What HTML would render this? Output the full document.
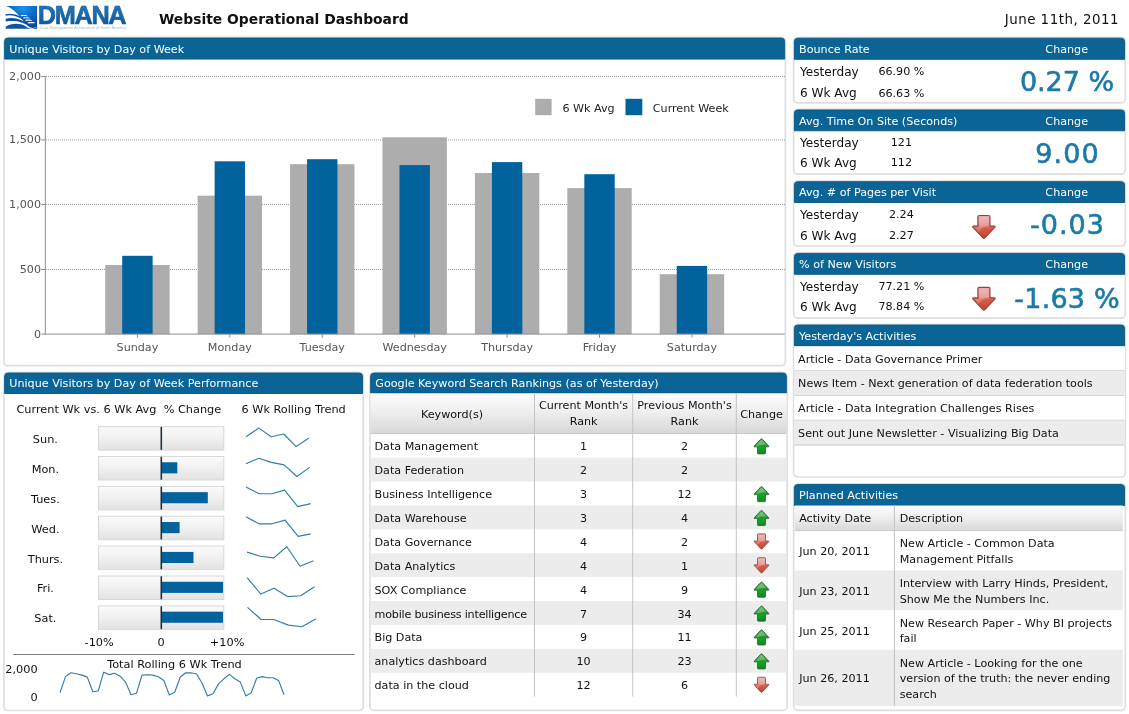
<!DOCTYPE html>
<html lang="en"><head><meta charset="utf-8"><title>Website Operational Dashboard</title>
<style>
html,body{margin:0;padding:0;background:#fff;}
body{width:1129px;height:714px;position:relative;overflow:hidden;font-family:"DejaVu Sans","Liberation Sans",sans-serif;}
svg.bg{position:absolute;left:0;top:0;}
.t{position:absolute;white-space:nowrap;line-height:1;}
</style></head>
<body>
<svg class="bg" width="1129" height="714" viewBox="0 0 1129 714">
<defs>
<linearGradient id="rd" x1="0" y1="0" x2="0" y2="1"><stop offset="0" stop-color="#eaa9a8"/><stop offset="0.42" stop-color="#e08a84"/><stop offset="0.55" stop-color="#d65c4a"/><stop offset="1" stop-color="#bd4434"/></linearGradient>
<linearGradient id="gu" x1="0" y1="0" x2="0" y2="1"><stop offset="0" stop-color="#4fb257"/><stop offset="0.5" stop-color="#24912f"/><stop offset="0.56" stop-color="#17a22b"/><stop offset="1" stop-color="#118624"/></linearGradient>
<radialGradient id="lg1" cx="0.55" cy="0.1" r="0.75"><stop offset="0" stop-color="#1b96ee"/><stop offset="0.6" stop-color="#0d62c0"/><stop offset="1" stop-color="#0a48a0"/></radialGradient>
<linearGradient id="lg2" x1="0" y1="0" x2="0" y2="1"><stop offset="0" stop-color="#2a7dc2"/><stop offset="0.5" stop-color="#1868aa"/><stop offset="1" stop-color="#0b4f8a"/></linearGradient>
<linearGradient id="bx" x1="0" y1="0" x2="0" y2="1"><stop offset="0" stop-color="#fbfbfb"/><stop offset="0.5" stop-color="#f0f0f0"/><stop offset="1" stop-color="#e2e2e2"/></linearGradient>
<linearGradient id="th" x1="0" y1="0" x2="0" y2="1"><stop offset="0" stop-color="#fcfcfc"/><stop offset="0.45" stop-color="#efefef"/><stop offset="1" stop-color="#d7d7d7"/></linearGradient>
</defs>
<g transform="translate(2 2) scale(0.042017)">
<path d="M80 95 H835 V635 H80 Z" fill="url(#lg1)"/>
<path d="M60 85 C 200 120, 300 210, 390 310 C 470 400, 560 540, 660 600 C 720 630, 790 620, 850 585 L850 650 L60 650 Z" fill="#fff"/>
<path d="M85 292 C 180 262, 300 280, 400 330 C 470 365, 560 400, 640 405 L 690 440 C 580 440, 470 400, 390 362 C 300 320, 180 300, 85 328 Z" fill="#0d52a4"/>
<path d="M88 398 C 200 365, 380 385, 500 455 C 560 490, 640 505, 760 500 L 800 540 C 680 560, 590 545, 500 500 C 400 450, 250 440, 88 462 Z" fill="#0d52a4"/>
<path d="M88 636 V588 C 200 505, 420 492, 560 575 C 610 605, 660 628, 720 636 Z" fill="#0d55a8"/>
<path d="M440 318 C 490 305, 540 305, 590 318 L 610 338 C 550 328, 500 330, 455 340 Z" fill="#fff" opacity="0.95"/>
<path d="M500 372 C 550 360, 600 360, 650 372 L 672 395 C 610 385, 560 386, 520 396 Z" fill="#fff" opacity="0.95"/>
<path d="M548 428 C 600 416, 650 416, 700 428 L 722 452 C 660 442, 610 443, 570 453 Z" fill="#fff" opacity="0.95"/>
<path d="M605 486 C 660 474, 715 472, 770 482 L 790 508 C 730 500, 680 502, 630 512 Z" fill="#fff" opacity="0.95"/>
<path d="M700 636 C 760 630, 800 615, 835 590 V636 Z" fill="#0b3f86"/>
</g>
<text x="37.7" y="24.3" font-family="Liberation Sans, sans-serif" font-weight="bold" font-size="25.3" letter-spacing="-1.3" fill="url(#lg2)" stroke="#16609f" stroke-width="0.6">DMANA</text>
<text x="39.5" y="28.9" font-family="Liberation Sans, sans-serif" font-size="4.05" fill="#a4b9cf" textLength="87" lengthAdjust="spacingAndGlyphs">Data Management Association of North America</text>
<rect x="3.90" y="37.40" width="781.50" height="328.30" rx="4.0" ry="4.0" fill="#fff" stroke="#dedede" stroke-width="1.7"/>
<path d="M4.65 59.10 V41.45 Q4.65 38.05 8.05 38.05 H781.25 Q784.65 38.05 784.65 41.45 V59.10 Z" fill="#0a6496" stroke="#07557f" stroke-width="0.9" stroke-linejoin="round"/>
<line x1="46" x2="785" y1="269.5" y2="269.5" stroke="#9c9c9c" stroke-width="1" stroke-dasharray="1 1" shape-rendering="crispEdges"/>
<line x1="46" x2="785" y1="204.5" y2="204.5" stroke="#9c9c9c" stroke-width="1" stroke-dasharray="1 1" shape-rendering="crispEdges"/>
<line x1="46" x2="785" y1="139.9" y2="139.9" stroke="#9c9c9c" stroke-width="1" stroke-dasharray="1 1"/>
<line x1="46" x2="785" y1="76.5" y2="76.5" stroke="#9c9c9c" stroke-width="1" stroke-dasharray="1 1" shape-rendering="crispEdges"/>
<rect x="105.22" y="265.00" width="64.40" height="69.10" fill="#adadad" />
<rect x="122.22" y="255.80" width="30.40" height="78.30" fill="#02629e" />
<line x1="137.42" x2="137.42" y1="334.10" y2="337.60" stroke="#8a8d94" stroke-width="1"/>
<rect x="197.64" y="195.70" width="64.40" height="138.40" fill="#adadad" />
<rect x="214.64" y="161.30" width="30.40" height="172.80" fill="#02629e" />
<line x1="229.84" x2="229.84" y1="334.10" y2="337.60" stroke="#8a8d94" stroke-width="1"/>
<rect x="290.06" y="164.20" width="64.40" height="169.90" fill="#adadad" />
<rect x="307.06" y="159.20" width="30.40" height="174.90" fill="#02629e" />
<line x1="322.26" x2="322.26" y1="334.10" y2="337.60" stroke="#8a8d94" stroke-width="1"/>
<rect x="382.48" y="137.30" width="64.40" height="196.80" fill="#adadad" />
<rect x="399.48" y="165.10" width="30.40" height="169.00" fill="#02629e" />
<line x1="414.68" x2="414.68" y1="334.10" y2="337.60" stroke="#8a8d94" stroke-width="1"/>
<rect x="474.90" y="173.00" width="64.40" height="161.10" fill="#adadad" />
<rect x="491.90" y="162.10" width="30.40" height="172.00" fill="#02629e" />
<line x1="507.10" x2="507.10" y1="334.10" y2="337.60" stroke="#8a8d94" stroke-width="1"/>
<rect x="567.32" y="188.10" width="64.40" height="146.00" fill="#adadad" />
<rect x="584.32" y="174.20" width="30.40" height="159.90" fill="#02629e" />
<line x1="599.52" x2="599.52" y1="334.10" y2="337.60" stroke="#8a8d94" stroke-width="1"/>
<rect x="659.74" y="274.20" width="64.40" height="59.90" fill="#adadad" />
<rect x="676.74" y="265.90" width="30.40" height="68.20" fill="#02629e" />
<line x1="691.94" x2="691.94" y1="334.10" y2="337.60" stroke="#8a8d94" stroke-width="1"/>
<line x1="45.3" x2="45.3" y1="76.40" y2="334.60" stroke="#8a8d94" stroke-width="1"/>
<line x1="41.3" x2="784.8" y1="334.10" y2="334.10" stroke="#8a8d94" stroke-width="1"/>
<line x1="41.3" x2="45.3" y1="269.50" y2="269.50" stroke="#8a8d94" stroke-width="1"/>
<line x1="41.3" x2="45.3" y1="204.50" y2="204.50" stroke="#8a8d94" stroke-width="1"/>
<line x1="41.3" x2="45.3" y1="139.90" y2="139.90" stroke="#8a8d94" stroke-width="1"/>
<line x1="41.3" x2="45.3" y1="76.50" y2="76.50" stroke="#8a8d94" stroke-width="1"/>
<rect x="535.20" y="98.80" width="16.40" height="16.40" fill="#adadad" />
<rect x="625.50" y="98.80" width="16.80" height="16.40" fill="#02629e" />
<rect x="793.65" y="37.50" width="331.65" height="65.40" rx="4.0" ry="4.0" fill="#fff" stroke="#dedede" stroke-width="1.7"/>
<path d="M794.40 59.30 V41.55 Q794.40 38.15 797.80 38.15 H1121.15 Q1124.55 38.15 1124.55 41.55 V59.30 Z" fill="#0a6496" stroke="#07557f" stroke-width="0.9" stroke-linejoin="round"/>
<rect x="793.65" y="109.30" width="331.65" height="64.80" rx="4.0" ry="4.0" fill="#fff" stroke="#dedede" stroke-width="1.7"/>
<path d="M794.40 130.80 V113.35 Q794.40 109.95 797.80 109.95 H1121.15 Q1124.55 109.95 1124.55 113.35 V130.80 Z" fill="#0a6496" stroke="#07557f" stroke-width="0.9" stroke-linejoin="round"/>
<rect x="793.65" y="181.00" width="331.65" height="65.00" rx="4.0" ry="4.0" fill="#fff" stroke="#dedede" stroke-width="1.7"/>
<path d="M794.40 202.50 V185.05 Q794.40 181.65 797.80 181.65 H1121.15 Q1124.55 181.65 1124.55 185.05 V202.50 Z" fill="#0a6496" stroke="#07557f" stroke-width="0.9" stroke-linejoin="round"/>
<g transform="translate(971.90 214.90) scale(1.0000)"><path d="M7.4 0.6 H16.6 Q18 0.6 18 2 V11.2 H22.4 Q23.8 11.2 22.8 12.4 L13 22.9 Q12 23.9 11 22.9 L1.2 12.4 Q0.2 11.2 1.6 11.2 H6 V2 Q6 0.6 7.4 0.6 Z" fill="url(#rd)" stroke="#9c3f3b" stroke-width="1.2" stroke-linejoin="round"/><path d="M7 1.8 H17 V10.6 C13 11.4 9 13.6 6.6 17.2 L2.6 12.2 H7 Z" fill="#fff" opacity="0.20"/></g>
<rect x="793.65" y="252.80" width="331.65" height="65.40" rx="4.0" ry="4.0" fill="#fff" stroke="#dedede" stroke-width="1.7"/>
<path d="M794.40 274.30 V256.85 Q794.40 253.45 797.80 253.45 H1121.15 Q1124.55 253.45 1124.55 256.85 V274.30 Z" fill="#0a6496" stroke="#07557f" stroke-width="0.9" stroke-linejoin="round"/>
<g transform="translate(971.90 286.70) scale(1.0000)"><path d="M7.4 0.6 H16.6 Q18 0.6 18 2 V11.2 H22.4 Q23.8 11.2 22.8 12.4 L13 22.9 Q12 23.9 11 22.9 L1.2 12.4 Q0.2 11.2 1.6 11.2 H6 V2 Q6 0.6 7.4 0.6 Z" fill="url(#rd)" stroke="#9c3f3b" stroke-width="1.2" stroke-linejoin="round"/><path d="M7 1.8 H17 V10.6 C13 11.4 9 13.6 6.6 17.2 L2.6 12.2 H7 Z" fill="#fff" opacity="0.20"/></g>
<rect x="793.65" y="324.40" width="331.65" height="152.60" rx="4.0" ry="4.0" fill="#fff" stroke="#dedede" stroke-width="1.7"/>
<path d="M794.40 346.00 V328.45 Q794.40 325.05 797.80 325.05 H1121.15 Q1124.55 325.05 1124.55 328.45 V346.00 Z" fill="#0a6496" stroke="#07557f" stroke-width="0.9" stroke-linejoin="round"/>
<rect x="794.25" y="346.30" width="330.45" height="24.75" fill="#fff" />
<line x1="794.25" x2="1124.70" y1="370.75" y2="370.75" stroke="#cdcdcd" stroke-width="1"/>
<rect x="794.25" y="371.05" width="330.45" height="24.75" fill="#ececec" />
<line x1="794.25" x2="1124.70" y1="395.50" y2="395.50" stroke="#cdcdcd" stroke-width="1"/>
<rect x="794.25" y="395.80" width="330.45" height="24.75" fill="#fff" />
<line x1="794.25" x2="1124.70" y1="420.25" y2="420.25" stroke="#cdcdcd" stroke-width="1"/>
<rect x="794.25" y="420.55" width="330.45" height="24.75" fill="#ececec" />
<line x1="794.25" x2="1124.70" y1="445.00" y2="445.00" stroke="#cdcdcd" stroke-width="1"/>
<rect x="793.65" y="483.90" width="331.65" height="226.40" rx="4.0" ry="4.0" fill="#fff" stroke="#dedede" stroke-width="1.7"/>
<path d="M794.40 505.50 V487.95 Q794.40 484.55 797.80 484.55 H1121.15 Q1124.55 484.55 1124.55 487.95 V505.50 Z" fill="#0a6496" stroke="#07557f" stroke-width="0.9" stroke-linejoin="round"/>
<rect x="795.00" y="505.50" width="327.80" height="25.50" fill="url(#th)" />
<line x1="795" x2="1122.8" y1="530.6" y2="530.6" stroke="#cfcfcf" stroke-width="1"/>
<rect x="795.00" y="570.50" width="327.80" height="39.70" fill="#ececec" />
<rect x="795.00" y="649.80" width="327.80" height="56.20" fill="#ececec" />
<line x1="894.4" x2="894.4" y1="505.5" y2="706" stroke="#c2c2c2" stroke-width="1"/>
<rect x="3.90" y="372.40" width="359.40" height="338.10" rx="4.0" ry="4.0" fill="#fff" stroke="#dedede" stroke-width="1.7"/>
<path d="M4.65 393.50 V376.45 Q4.65 373.05 8.05 373.05 H359.15 Q362.55 373.05 362.55 376.45 V393.50 Z" fill="#0a6496" stroke="#07557f" stroke-width="0.9" stroke-linejoin="round"/>
<rect x="98.5" y="426.60" width="125.3" height="23.5" fill="url(#bx)" stroke="#d8d8d8" stroke-width="1"/>
<rect x="160.50" y="426.90" width="1.60" height="22.90" fill="#22303c" />
<polyline points="246.0,436.8 258.9,428.1 271.2,436.8 283.8,434.0 296.1,446.6 308.7,438.2" fill="none" stroke="#347dad" stroke-width="1.15" stroke-linejoin="round"/>
<rect x="98.5" y="456.48" width="125.3" height="23.5" fill="url(#bx)" stroke="#d8d8d8" stroke-width="1"/>
<rect x="161.60" y="462.28" width="15.70" height="11.10" fill="#02629e" />
<rect x="160.50" y="456.78" width="1.60" height="22.90" fill="#22303c" />
<polyline points="246.0,463.7 258.9,458.2 271.2,462.4 284.1,464.9 296.9,476.5 309.7,467.4" fill="none" stroke="#347dad" stroke-width="1.15" stroke-linejoin="round"/>
<rect x="98.5" y="486.36" width="125.3" height="23.5" fill="url(#bx)" stroke="#d8d8d8" stroke-width="1"/>
<rect x="161.60" y="492.16" width="46.20" height="11.10" fill="#02629e" />
<rect x="160.50" y="486.66" width="1.60" height="22.90" fill="#22303c" />
<polyline points="246.0,486.9 258.9,493.7 272.0,493.7 284.6,490.1 297.7,506.6 310.7,503.6" fill="none" stroke="#347dad" stroke-width="1.15" stroke-linejoin="round"/>
<rect x="98.5" y="516.24" width="125.3" height="23.5" fill="url(#bx)" stroke="#d8d8d8" stroke-width="1"/>
<rect x="161.60" y="522.04" width="18.00" height="11.10" fill="#02629e" />
<rect x="160.50" y="516.54" width="1.60" height="22.90" fill="#22303c" />
<polyline points="246.0,516.8 258.9,523.8 272.0,523.8 285.1,520.1 298.1,536.4 310.7,533.9" fill="none" stroke="#347dad" stroke-width="1.15" stroke-linejoin="round"/>
<rect x="98.5" y="546.12" width="125.3" height="23.5" fill="url(#bx)" stroke="#d8d8d8" stroke-width="1"/>
<rect x="161.60" y="551.92" width="31.90" height="11.10" fill="#02629e" />
<rect x="160.50" y="546.42" width="1.60" height="22.90" fill="#22303c" />
<polyline points="247.1,552.1 260.3,556.3 273.7,557.9 286.8,546.7 300.1,566.3 313.5,560.8" fill="none" stroke="#347dad" stroke-width="1.15" stroke-linejoin="round"/>
<rect x="98.5" y="576.00" width="125.3" height="23.5" fill="url(#bx)" stroke="#d8d8d8" stroke-width="1"/>
<rect x="161.60" y="581.80" width="61.40" height="11.10" fill="#02629e" />
<rect x="160.50" y="576.30" width="1.60" height="22.90" fill="#22303c" />
<polyline points="247.1,577.6 260.8,594.1 274.0,588.2 287.6,596.6 300.6,595.8 314.5,586.8" fill="none" stroke="#347dad" stroke-width="1.15" stroke-linejoin="round"/>
<rect x="98.5" y="605.88" width="125.3" height="23.5" fill="url(#bx)" stroke="#d8d8d8" stroke-width="1"/>
<rect x="161.60" y="611.68" width="61.40" height="11.10" fill="#02629e" />
<rect x="160.50" y="606.18" width="1.60" height="22.90" fill="#22303c" />
<polyline points="247.5,607.4 261.2,619.5 273.7,619.5 288.4,625.1 301.9,626.7 316.0,618.8" fill="none" stroke="#347dad" stroke-width="1.15" stroke-linejoin="round"/>
<line x1="13" x2="354.6" y1="654.5" y2="654.5" stroke="#808080" stroke-width="1"/>
<polyline points="60.0,692.6 65.5,676.6 70.9,672.8 76.4,673.7 81.9,675.1 87.3,677.1 92.8,691.7 98.2,691.0 103.7,672.2 109.2,674.6 114.6,673.3 120.1,676.2 125.6,682.1 131.0,694.8 136.5,693.2 142.0,675.1 147.4,674.8 152.9,675.1 158.4,676.8 163.8,680.4 169.3,695.0 174.7,692.3 180.2,677.3 185.7,672.8 191.1,672.8 196.6,674.0 202.1,683.3 207.5,695.9 213.0,693.7 218.5,683.9 223.9,678.8 229.4,674.4 234.8,678.8 240.3,682.1 245.8,695.9 251.2,692.8 256.7,678.2 262.2,676.6 267.6,677.7 273.1,677.7 278.6,680.4 284.0,694.8" fill="none" stroke="#347dad" stroke-width="1.15" stroke-linejoin="round"/>
<rect x="369.90" y="372.40" width="417.20" height="338.00" rx="4.0" ry="4.0" fill="#fff" stroke="#dedede" stroke-width="1.7"/>
<path d="M370.65 393.00 V376.45 Q370.65 373.05 374.05 373.05 H782.95 Q786.35 373.05 786.35 376.45 V393.00 Z" fill="#0a6496" stroke="#07557f" stroke-width="0.9" stroke-linejoin="round"/>
<rect x="370.50" y="393.50" width="416.00" height="40.30" fill="url(#th)" />
<line x1="370.50" x2="786.50" y1="433.5" y2="433.5" stroke="#c9c9c9" stroke-width="1"/>
<rect x="370.50" y="457.69" width="416.00" height="23.89" fill="#ececec" />
<rect x="370.50" y="505.47" width="416.00" height="23.89" fill="#ececec" />
<rect x="370.50" y="553.25" width="416.00" height="23.89" fill="#ececec" />
<rect x="370.50" y="601.03" width="416.00" height="23.89" fill="#ececec" />
<rect x="370.50" y="648.81" width="416.00" height="23.89" fill="#ececec" />
<line x1="534.5" x2="534.5" y1="393.5" y2="696.59" stroke="#c4c4c4" stroke-width="1"/>
<line x1="632.7" x2="632.7" y1="393.5" y2="696.59" stroke="#c4c4c4" stroke-width="1"/>
<line x1="736.3" x2="736.3" y1="393.5" y2="696.59" stroke="#c4c4c4" stroke-width="1"/>
<g transform="translate(753.50 438.30) scale(0.6667)"><path d="M7.4 23.4 H16.6 Q18 23.4 18 22 V12.8 H22.4 Q23.8 12.8 22.8 11.6 L13 1.1 Q12 0.1 11 1.1 L1.2 11.6 Q0.2 12.8 1.6 12.8 H6 V22 Q6 23.4 7.4 23.4 Z" fill="url(#gu)" stroke="#1c6b22" stroke-width="1.2" stroke-linejoin="round"/><path d="M12 2.2 L3.4 11.6 H7 C10 10.2 14 9.2 19 9.6 Z" fill="#fff" opacity="0.28"/></g>
<g transform="translate(753.50 486.08) scale(0.6667)"><path d="M7.4 23.4 H16.6 Q18 23.4 18 22 V12.8 H22.4 Q23.8 12.8 22.8 11.6 L13 1.1 Q12 0.1 11 1.1 L1.2 11.6 Q0.2 12.8 1.6 12.8 H6 V22 Q6 23.4 7.4 23.4 Z" fill="url(#gu)" stroke="#1c6b22" stroke-width="1.2" stroke-linejoin="round"/><path d="M12 2.2 L3.4 11.6 H7 C10 10.2 14 9.2 19 9.6 Z" fill="#fff" opacity="0.28"/></g>
<g transform="translate(753.50 509.97) scale(0.6667)"><path d="M7.4 23.4 H16.6 Q18 23.4 18 22 V12.8 H22.4 Q23.8 12.8 22.8 11.6 L13 1.1 Q12 0.1 11 1.1 L1.2 11.6 Q0.2 12.8 1.6 12.8 H6 V22 Q6 23.4 7.4 23.4 Z" fill="url(#gu)" stroke="#1c6b22" stroke-width="1.2" stroke-linejoin="round"/><path d="M12 2.2 L3.4 11.6 H7 C10 10.2 14 9.2 19 9.6 Z" fill="#fff" opacity="0.28"/></g>
<g transform="translate(753.50 533.46) scale(0.6667)"><path d="M7.4 0.6 H16.6 Q18 0.6 18 2 V11.2 H22.4 Q23.8 11.2 22.8 12.4 L13 22.9 Q12 23.9 11 22.9 L1.2 12.4 Q0.2 11.2 1.6 11.2 H6 V2 Q6 0.6 7.4 0.6 Z" fill="url(#rd)" stroke="#9c3f3b" stroke-width="1.2" stroke-linejoin="round"/><path d="M7 1.8 H17 V10.6 C13 11.4 9 13.6 6.6 17.2 L2.6 12.2 H7 Z" fill="#fff" opacity="0.20"/></g>
<g transform="translate(753.50 557.35) scale(0.6667)"><path d="M7.4 0.6 H16.6 Q18 0.6 18 2 V11.2 H22.4 Q23.8 11.2 22.8 12.4 L13 22.9 Q12 23.9 11 22.9 L1.2 12.4 Q0.2 11.2 1.6 11.2 H6 V2 Q6 0.6 7.4 0.6 Z" fill="url(#rd)" stroke="#9c3f3b" stroke-width="1.2" stroke-linejoin="round"/><path d="M7 1.8 H17 V10.6 C13 11.4 9 13.6 6.6 17.2 L2.6 12.2 H7 Z" fill="#fff" opacity="0.20"/></g>
<g transform="translate(753.50 581.64) scale(0.6667)"><path d="M7.4 23.4 H16.6 Q18 23.4 18 22 V12.8 H22.4 Q23.8 12.8 22.8 11.6 L13 1.1 Q12 0.1 11 1.1 L1.2 11.6 Q0.2 12.8 1.6 12.8 H6 V22 Q6 23.4 7.4 23.4 Z" fill="url(#gu)" stroke="#1c6b22" stroke-width="1.2" stroke-linejoin="round"/><path d="M12 2.2 L3.4 11.6 H7 C10 10.2 14 9.2 19 9.6 Z" fill="#fff" opacity="0.28"/></g>
<g transform="translate(753.50 605.53) scale(0.6667)"><path d="M7.4 23.4 H16.6 Q18 23.4 18 22 V12.8 H22.4 Q23.8 12.8 22.8 11.6 L13 1.1 Q12 0.1 11 1.1 L1.2 11.6 Q0.2 12.8 1.6 12.8 H6 V22 Q6 23.4 7.4 23.4 Z" fill="url(#gu)" stroke="#1c6b22" stroke-width="1.2" stroke-linejoin="round"/><path d="M12 2.2 L3.4 11.6 H7 C10 10.2 14 9.2 19 9.6 Z" fill="#fff" opacity="0.28"/></g>
<g transform="translate(753.50 629.42) scale(0.6667)"><path d="M7.4 23.4 H16.6 Q18 23.4 18 22 V12.8 H22.4 Q23.8 12.8 22.8 11.6 L13 1.1 Q12 0.1 11 1.1 L1.2 11.6 Q0.2 12.8 1.6 12.8 H6 V22 Q6 23.4 7.4 23.4 Z" fill="url(#gu)" stroke="#1c6b22" stroke-width="1.2" stroke-linejoin="round"/><path d="M12 2.2 L3.4 11.6 H7 C10 10.2 14 9.2 19 9.6 Z" fill="#fff" opacity="0.28"/></g>
<g transform="translate(753.50 653.31) scale(0.6667)"><path d="M7.4 23.4 H16.6 Q18 23.4 18 22 V12.8 H22.4 Q23.8 12.8 22.8 11.6 L13 1.1 Q12 0.1 11 1.1 L1.2 11.6 Q0.2 12.8 1.6 12.8 H6 V22 Q6 23.4 7.4 23.4 Z" fill="url(#gu)" stroke="#1c6b22" stroke-width="1.2" stroke-linejoin="round"/><path d="M12 2.2 L3.4 11.6 H7 C10 10.2 14 9.2 19 9.6 Z" fill="#fff" opacity="0.28"/></g>
<g transform="translate(753.50 676.80) scale(0.6667)"><path d="M7.4 0.6 H16.6 Q18 0.6 18 2 V11.2 H22.4 Q23.8 11.2 22.8 12.4 L13 22.9 Q12 23.9 11 22.9 L1.2 12.4 Q0.2 11.2 1.6 11.2 H6 V2 Q6 0.6 7.4 0.6 Z" fill="url(#rd)" stroke="#9c3f3b" stroke-width="1.2" stroke-linejoin="round"/><path d="M7 1.8 H17 V10.6 C13 11.4 9 13.6 6.6 17.2 L2.6 12.2 H7 Z" fill="#fff" opacity="0.20"/></g>
</svg>
<div class="t" style="left:159.00px;top:13px;font-size:13.88px;color:#111;font-weight:bold;">Website Operational Dashboard</div>
<div class="t" style="left:519.00px;width:600px;text-align:right;top:13px;font-size:13.4px;color:#111;letter-spacing:0.5px;">June 11th, 2011</div>
<div class="t" style="left:9.30px;top:44px;font-size:11.15px;color:#fff;">Unique Visitors by Day of Week</div>
<div class="t" style="left:-559.00px;width:600px;text-align:right;top:329px;font-size:11.15px;color:#555;">0</div>
<div class="t" style="left:-559.00px;width:600px;text-align:right;top:264px;font-size:11.15px;color:#555;">500</div>
<div class="t" style="left:-559.00px;width:600px;text-align:right;top:199px;font-size:11.15px;color:#555;">1,000</div>
<div class="t" style="left:-559.00px;width:600px;text-align:right;top:134px;font-size:11.15px;color:#555;">1,500</div>
<div class="t" style="left:-559.00px;width:600px;text-align:right;top:71px;font-size:11.15px;color:#555;">2,000</div>
<div class="t" style="left:-162.58px;width:600px;text-align:center;top:342px;font-size:11.15px;color:#555;">Sunday</div>
<div class="t" style="left:-70.16px;width:600px;text-align:center;top:342px;font-size:11.15px;color:#555;">Monday</div>
<div class="t" style="left:22.26px;width:600px;text-align:center;top:342px;font-size:11.15px;color:#555;">Tuesday</div>
<div class="t" style="left:114.68px;width:600px;text-align:center;top:342px;font-size:11.15px;color:#555;">Wednesday</div>
<div class="t" style="left:207.10px;width:600px;text-align:center;top:342px;font-size:11.15px;color:#555;">Thursday</div>
<div class="t" style="left:299.52px;width:600px;text-align:center;top:342px;font-size:11.15px;color:#555;">Friday</div>
<div class="t" style="left:391.94px;width:600px;text-align:center;top:342px;font-size:11.15px;color:#555;">Saturday</div>
<div class="t" style="left:562.40px;top:103px;font-size:11.15px;color:#222;">6 Wk Avg</div>
<div class="t" style="left:652.80px;top:103px;font-size:11.15px;color:#222;">Current Week</div>
<div class="t" style="left:799.05px;top:44px;font-size:11.15px;color:#fff;">Bounce Rate</div>
<div class="t" style="left:766.70px;width:600px;text-align:center;top:44px;font-size:11.15px;color:#fff;">Change</div>
<div class="t" style="left:800.00px;top:66px;font-size:12.1px;color:#111;">Yesterday</div>
<div class="t" style="left:800.00px;top:87px;font-size:12.1px;color:#111;">6 Wk Avg</div>
<div class="t" style="left:601.40px;width:600px;text-align:center;top:66px;font-size:11.15px;color:#111;">66.90 %</div>
<div class="t" style="left:601.40px;width:600px;text-align:center;top:88px;font-size:11.15px;color:#111;">66.63 %</div>
<div class="t" style="left:766.97px;width:600px;text-align:center;top:68px;font-size:27.0px;color:#1c7aa8;letter-spacing:-0.05px;-webkit-text-stroke:0.6px #1c7aa8;">0.27 %</div>
<div class="t" style="left:799.05px;top:116px;font-size:11.15px;color:#fff;">Avg. Time On Site (Seconds)</div>
<div class="t" style="left:766.70px;width:600px;text-align:center;top:116px;font-size:11.15px;color:#fff;">Change</div>
<div class="t" style="left:800.00px;top:137px;font-size:12.1px;color:#111;">Yesterday</div>
<div class="t" style="left:800.00px;top:157px;font-size:12.1px;color:#111;">6 Wk Avg</div>
<div class="t" style="left:601.40px;width:600px;text-align:center;top:137px;font-size:11.15px;color:#111;">121</div>
<div class="t" style="left:601.40px;width:600px;text-align:center;top:157px;font-size:11.15px;color:#111;">112</div>
<div class="t" style="left:767.58px;width:600px;text-align:center;top:140px;font-size:27.0px;color:#1c7aa8;letter-spacing:1.15px;-webkit-text-stroke:0.6px #1c7aa8;">9.00</div>
<div class="t" style="left:799.05px;top:187px;font-size:11.15px;color:#fff;">Avg. # of Pages per Visit</div>
<div class="t" style="left:766.70px;width:600px;text-align:center;top:187px;font-size:11.15px;color:#fff;">Change</div>
<div class="t" style="left:800.00px;top:209px;font-size:12.1px;color:#111;">Yesterday</div>
<div class="t" style="left:800.00px;top:230px;font-size:12.1px;color:#111;">6 Wk Avg</div>
<div class="t" style="left:601.40px;width:600px;text-align:center;top:209px;font-size:11.15px;color:#111;">2.24</div>
<div class="t" style="left:601.40px;width:600px;text-align:center;top:230px;font-size:11.15px;color:#111;">2.27</div>
<div class="t" style="left:767.53px;width:600px;text-align:center;top:211px;font-size:27.0px;color:#1c7aa8;letter-spacing:1.05px;-webkit-text-stroke:0.6px #1c7aa8;">-0.03</div>
<div class="t" style="left:799.05px;top:259px;font-size:11.15px;color:#fff;">% of New Visitors</div>
<div class="t" style="left:766.70px;width:600px;text-align:center;top:259px;font-size:11.15px;color:#fff;">Change</div>
<div class="t" style="left:800.00px;top:281px;font-size:12.1px;color:#111;">Yesterday</div>
<div class="t" style="left:800.00px;top:301px;font-size:12.1px;color:#111;">6 Wk Avg</div>
<div class="t" style="left:601.40px;width:600px;text-align:center;top:281px;font-size:11.15px;color:#111;">77.21 %</div>
<div class="t" style="left:601.40px;width:600px;text-align:center;top:301px;font-size:11.15px;color:#111;">78.84 %</div>
<div class="t" style="left:767.10px;width:600px;text-align:center;top:285px;font-size:27.0px;color:#1c7aa8;letter-spacing:0.20px;-webkit-text-stroke:0.6px #1c7aa8;">-1.63 %</div>
<div class="t" style="left:799.05px;top:331px;font-size:11.15px;color:#fff;">Yesterday's Activities</div>
<div class="t" style="left:798.10px;top:354px;font-size:11.15px;color:#111;">Article - Data Governance Primer</div>
<div class="t" style="left:798.10px;top:378px;font-size:11.15px;color:#111;">News Item - Next generation of data federation tools</div>
<div class="t" style="left:798.10px;top:403px;font-size:11.15px;color:#111;">Article - Data Integration Challenges Rises</div>
<div class="t" style="left:798.10px;top:428px;font-size:11.15px;color:#111;">Sent out June Newsletter - Visualizing Big Data</div>
<div class="t" style="left:799.05px;top:490px;font-size:11.15px;color:#fff;">Planned Activities</div>
<div class="t" style="left:799.20px;top:546px;font-size:11.15px;color:#111;">Jun 20, 2011</div>
<div class="t" style="left:899.70px;top:538px;font-size:11.15px;color:#111;">New Article - Common Data</div>
<div class="t" style="left:899.70px;top:554px;font-size:11.15px;color:#111;">Management Pitfalls</div>
<div class="t" style="left:799.20px;top:586px;font-size:11.15px;color:#111;">Jun 23, 2011</div>
<div class="t" style="left:899.70px;top:578px;font-size:11.15px;color:#111;">Interview with Larry Hinds, President,</div>
<div class="t" style="left:899.70px;top:594px;font-size:11.15px;color:#111;">Show Me the Numbers Inc.</div>
<div class="t" style="left:799.20px;top:626px;font-size:11.15px;color:#111;">Jun 25, 2011</div>
<div class="t" style="left:899.70px;top:618px;font-size:11.15px;color:#111;">New Research Paper - Why BI projects</div>
<div class="t" style="left:899.70px;top:633px;font-size:11.15px;color:#111;">fail</div>
<div class="t" style="left:799.20px;top:673px;font-size:11.15px;color:#111;">Jun 26, 2011</div>
<div class="t" style="left:899.70px;top:658px;font-size:11.15px;color:#111;">New Article - Looking for the one</div>
<div class="t" style="left:899.70px;top:673px;font-size:11.15px;color:#111;">version of the truth: the never ending</div>
<div class="t" style="left:899.70px;top:689px;font-size:11.15px;color:#111;">search</div>
<div class="t" style="left:799.20px;top:513px;font-size:11.15px;color:#111;">Activity Date</div>
<div class="t" style="left:899.70px;top:513px;font-size:11.15px;color:#111;">Description</div>
<div class="t" style="left:9.30px;top:378px;font-size:11.15px;color:#fff;">Unique Visitors by Day of Week Performance</div>
<div class="t" style="left:16.40px;top:404px;font-size:11.3px;color:#111;">Current Wk vs. 6 Wk Avg&nbsp; % Change</div>
<div class="t" style="left:241.60px;top:404px;font-size:11.25px;color:#111;">6 Wk Rolling Trend</div>
<div class="t" style="left:-254.60px;width:600px;text-align:center;top:434px;font-size:11.3px;color:#111;">Sun.</div>
<div class="t" style="left:-254.60px;width:600px;text-align:center;top:464px;font-size:11.3px;color:#111;">Mon.</div>
<div class="t" style="left:-254.60px;width:600px;text-align:center;top:494px;font-size:11.3px;color:#111;">Tues.</div>
<div class="t" style="left:-254.60px;width:600px;text-align:center;top:524px;font-size:11.3px;color:#111;">Wed.</div>
<div class="t" style="left:-254.60px;width:600px;text-align:center;top:554px;font-size:11.3px;color:#111;">Thurs.</div>
<div class="t" style="left:-254.60px;width:600px;text-align:center;top:583px;font-size:11.3px;color:#111;">Fri.</div>
<div class="t" style="left:-254.60px;width:600px;text-align:center;top:613px;font-size:11.3px;color:#111;">Sat.</div>
<div class="t" style="left:84.60px;top:637px;font-size:11.3px;color:#111;">-10%</div>
<div class="t" style="left:-139.00px;width:600px;text-align:center;top:637px;font-size:11.3px;color:#111;">0</div>
<div class="t" style="left:209.80px;top:637px;font-size:11.3px;color:#111;">+10%</div>
<div class="t" style="left:-125.50px;width:600px;text-align:center;top:659px;font-size:11.3px;color:#111;">Total Rolling 6 Wk Trend</div>
<div class="t" style="left:-562.40px;width:600px;text-align:right;top:664px;font-size:11.3px;color:#111;">2,000</div>
<div class="t" style="left:-562.40px;width:600px;text-align:right;top:692px;font-size:11.3px;color:#111;">0</div>
<div class="t" style="left:375.30px;top:378px;font-size:11.15px;color:#fff;">Google Keyword Search Rankings (as of Yesterday)</div>
<div class="t" style="left:374.50px;top:441px;font-size:11.15px;color:#111;">Data Management</div>
<div class="t" style="left:283.60px;width:600px;text-align:center;top:441px;font-size:11.15px;color:#111;">1</div>
<div class="t" style="left:384.50px;width:600px;text-align:center;top:441px;font-size:11.15px;color:#111;">2</div>
<div class="t" style="left:374.50px;top:465px;font-size:11.15px;color:#111;">Data Federation</div>
<div class="t" style="left:283.60px;width:600px;text-align:center;top:465px;font-size:11.15px;color:#111;">2</div>
<div class="t" style="left:384.50px;width:600px;text-align:center;top:465px;font-size:11.15px;color:#111;">2</div>
<div class="t" style="left:374.50px;top:489px;font-size:11.15px;color:#111;">Business Intelligence</div>
<div class="t" style="left:283.60px;width:600px;text-align:center;top:489px;font-size:11.15px;color:#111;">3</div>
<div class="t" style="left:384.50px;width:600px;text-align:center;top:489px;font-size:11.15px;color:#111;">12</div>
<div class="t" style="left:374.50px;top:513px;font-size:11.15px;color:#111;">Data Warehouse</div>
<div class="t" style="left:283.60px;width:600px;text-align:center;top:513px;font-size:11.15px;color:#111;">3</div>
<div class="t" style="left:384.50px;width:600px;text-align:center;top:513px;font-size:11.15px;color:#111;">4</div>
<div class="t" style="left:374.50px;top:537px;font-size:11.15px;color:#111;">Data Governance</div>
<div class="t" style="left:283.60px;width:600px;text-align:center;top:537px;font-size:11.15px;color:#111;">4</div>
<div class="t" style="left:384.50px;width:600px;text-align:center;top:537px;font-size:11.15px;color:#111;">2</div>
<div class="t" style="left:374.50px;top:561px;font-size:11.15px;color:#111;">Data Analytics</div>
<div class="t" style="left:283.60px;width:600px;text-align:center;top:561px;font-size:11.15px;color:#111;">4</div>
<div class="t" style="left:384.50px;width:600px;text-align:center;top:561px;font-size:11.15px;color:#111;">1</div>
<div class="t" style="left:374.50px;top:585px;font-size:11.15px;color:#111;">SOX Compliance</div>
<div class="t" style="left:283.60px;width:600px;text-align:center;top:585px;font-size:11.15px;color:#111;">4</div>
<div class="t" style="left:384.50px;width:600px;text-align:center;top:585px;font-size:11.15px;color:#111;">9</div>
<div class="t" style="left:374.50px;top:609px;font-size:11.15px;color:#111;letter-spacing:-0.2px;">mobile business intelligence</div>
<div class="t" style="left:283.60px;width:600px;text-align:center;top:609px;font-size:11.15px;color:#111;">7</div>
<div class="t" style="left:384.50px;width:600px;text-align:center;top:609px;font-size:11.15px;color:#111;">34</div>
<div class="t" style="left:374.50px;top:632px;font-size:11.15px;color:#111;">Big Data</div>
<div class="t" style="left:283.60px;width:600px;text-align:center;top:632px;font-size:11.15px;color:#111;">9</div>
<div class="t" style="left:384.50px;width:600px;text-align:center;top:632px;font-size:11.15px;color:#111;">11</div>
<div class="t" style="left:374.50px;top:656px;font-size:11.15px;color:#111;">analytics dashboard</div>
<div class="t" style="left:283.60px;width:600px;text-align:center;top:656px;font-size:11.15px;color:#111;">10</div>
<div class="t" style="left:384.50px;width:600px;text-align:center;top:656px;font-size:11.15px;color:#111;">23</div>
<div class="t" style="left:374.50px;top:680px;font-size:11.15px;color:#111;">data in the cloud</div>
<div class="t" style="left:283.60px;width:600px;text-align:center;top:680px;font-size:11.15px;color:#111;">12</div>
<div class="t" style="left:384.50px;width:600px;text-align:center;top:680px;font-size:11.15px;color:#111;">6</div>
<div class="t" style="left:152.00px;width:600px;text-align:center;top:409px;font-size:11.15px;color:#111;">Keyword(s)</div>
<div class="t" style="left:283.60px;width:600px;text-align:center;top:400px;font-size:11.15px;color:#111;">Current Month's</div>
<div class="t" style="left:283.60px;width:600px;text-align:center;top:416px;font-size:11.15px;color:#111;">Rank</div>
<div class="t" style="left:384.50px;width:600px;text-align:center;top:400px;font-size:11.15px;color:#111;">Previous Month's</div>
<div class="t" style="left:384.50px;width:600px;text-align:center;top:416px;font-size:11.15px;color:#111;">Rank</div>
<div class="t" style="left:461.50px;width:600px;text-align:center;top:409px;font-size:11.15px;color:#111;">Change</div>
</body></html>
